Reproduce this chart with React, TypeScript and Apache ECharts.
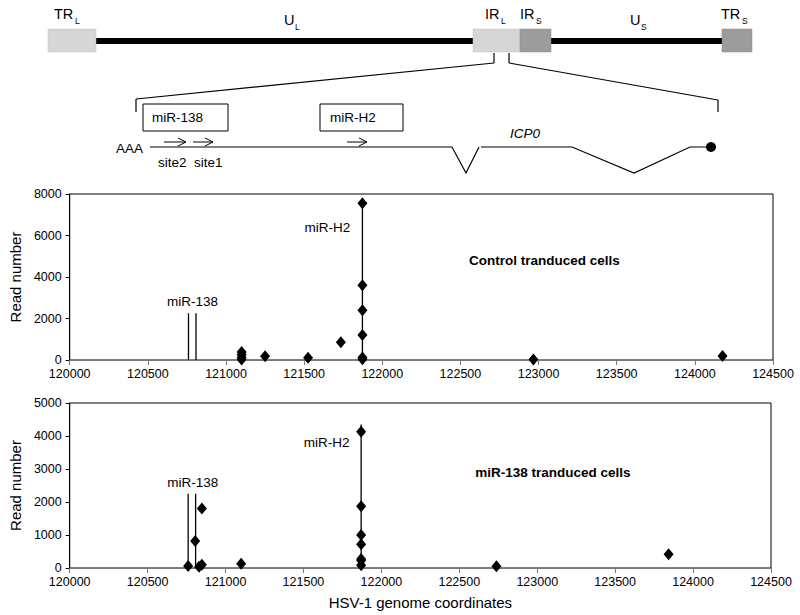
import React, { useEffect, useRef } from "react";
import * as echarts from "echarts";

const FONT = "'Liberation Sans', Arial, sans-serif";

// x axis ticks (shared)
const xMin = 120000;
const xMax = 124500;
const xStep = 500;

// Control transduced cells: read positions and counts
const controlX = [121100, 121100, 121100, 121100, 121250, 121525, 121735, 121873, 121873, 121873, 121873, 121873, 121873, 122967, 124177];
const controlY = [380, 250, 120, 30, 180, 110, 850, 7550, 3600, 2400, 1200, 120, 40, 30, 190];

// miR-138 transduced cells
const mirX = [120760, 120805, 120830, 120848, 120848, 121100, 121870, 121870, 121870, 121870, 121870, 121870, 121870, 122738, 123843];
const mirY = [60, 820, 40, 1800, 100, 130, 4130, 1870, 1000, 720, 270, 230, 80, 50, 420];

// miR-138 target sites and miR-H2 marker lines
const siteX = [120760, 120808];
const siteTop = [2250, 2250];
const h2X = [121873, 121870];
const h2Top = [7600, 4350];

// y ranges
const yMaxes = [8000, 5000];
const ySteps = [2000, 1000];

// annotations [x, y]
const mir138Label = [[120785, 2800], [120790, 2600]];
const h2Label = [[121795, 6400], [121795, 3800]];
const panelTitle = ["Control tranduced cells", "miR-138 tranduced cells"];
const panelTitlePos = [[123037, 4800], [123100, 2900]];

export default function App() {
  const ref = useRef<HTMLDivElement>(null);
  useEffect(() => {
    const chart = echarts.init(ref.current!, null, { renderer: "svg" });

    const grids = [
      { left: 60, top: 194, width: 713, height: 166 },
      { left: 61, top: 403, width: 710, height: 165 },
    ];

    const xAxes = grids.map((_, i) => ({
      type: "value",
      gridIndex: i,
      min: xMin,
      max: xMax,
      interval: xStep,
      axisLine: { show: true, lineStyle: { color: "#7a7a7a", width: 1 } },
      axisTick: { show: true, inside: false, length: 5, lineStyle: { color: "#7a7a7a" } },
      axisLabel: { color: "#000", fontSize: 12.5, fontFamily: FONT, margin: 7, formatter: (v: number) => String(v) },
      splitLine: { show: false },
      name: i === 1 ? "HSV-1 genome coordinates" : "",
      nameLocation: "middle",
      nameGap: 27,
      nameTextStyle: { color: "#000", fontSize: 15, fontFamily: FONT },
    }));

    const yAxes = grids.map((_, i) => ({
      type: "value",
      gridIndex: i,
      min: 0,
      max: yMaxes[i],
      interval: ySteps[i],
      axisLine: { show: true, lineStyle: { color: "#000", width: 1 } },
      axisTick: { show: true, inside: false, length: 4, lineStyle: { color: "#000" } },
      axisLabel: { color: "#000", fontSize: 12.5, fontFamily: FONT, margin: 8, formatter: (v: number) => String(v) },
      splitLine: { show: false },
      name: "Read number",
      nameLocation: "middle",
      nameGap: 46,
      nameTextStyle: { color: "#000", fontSize: 15, fontFamily: FONT },
    }));

    const series: any[] = [];
    const pointSets = [
      controlX.map((x, k) => [x, controlY[k]]),
      mirX.map((x, k) => [x, mirY[k]]),
    ];
    [0, 1].forEach((i) => {
      siteX.forEach((sx) => {
        series.push({
          type: "line",
          xAxisIndex: i,
          yAxisIndex: i,
          data: [[sx, 0], [sx, siteTop[i]]],
          symbol: "none",
          lineStyle: { color: "#000", width: 1.3 },
          silent: true,
        });
      });
      series.push({
        type: "line",
        xAxisIndex: i,
        yAxisIndex: i,
        data: [[h2X[i], 0], [h2X[i], h2Top[i]]],
        symbol: "none",
        lineStyle: { color: "#000", width: 1.3 },
        silent: true,
      });
      series.push({
        type: "scatter",
        xAxisIndex: i,
        yAxisIndex: i,
        data: pointSets[i],
        symbol: "diamond",
        symbolSize: [10, 12],
        itemStyle: { color: "#000", opacity: 1 },
      });
      const labelStyle = { color: "#000", fontSize: 13.5, fontFamily: FONT, opacity: 1 };
      series.push({
        type: "scatter",
        xAxisIndex: i,
        yAxisIndex: i,
        symbolSize: 0,
        silent: true,
        itemStyle: { opacity: 1, color: "#000" },
        data: [
          { value: mir138Label[i], label: { show: true, position: "inside", formatter: "miR-138", ...labelStyle } },
          { value: h2Label[i], label: { show: true, position: "left", distance: 0, formatter: "miR-H2", ...labelStyle } },
          { value: panelTitlePos[i], label: { show: true, position: "inside", formatter: panelTitle[i], ...labelStyle, fontWeight: "bold" } },
        ],
      });
    });

    const T = (text: string, x: number, y: number, size: number, extra: any = {}) => ({
      type: "text",
      x,
      y,
      style: { text, fontSize: size, fontFamily: FONT, fill: "#000", textVerticalAlign: "middle", ...extra },
    });
    const line = (x1: number, y1: number, x2: number, y2: number, w = 1.2) => ({
      type: "line",
      shape: { x1, y1, x2, y2 },
      style: { stroke: "#000", lineWidth: w },
    });
    const light = "#d6d6d6";
    const dark = "#9c9c9c";

    const graphic: any[] = [
      // genome backbone
      { type: "rect", shape: { x: 96, y: 38, width: 377, height: 6 }, style: { fill: "#000" } },
      { type: "rect", shape: { x: 551, y: 38, width: 171, height: 6 }, style: { fill: "#000" } },
      { type: "rect", shape: { x: 48, y: 29, width: 48, height: 23 }, style: { fill: light, stroke: "#c4c4c4", lineWidth: 0.5 } },
      { type: "rect", shape: { x: 473, y: 29, width: 47, height: 23 }, style: { fill: light, stroke: "#c4c4c4", lineWidth: 0.5 } },
      { type: "rect", shape: { x: 520, y: 29, width: 31, height: 23 }, style: { fill: dark, stroke: "#8a8a8a", lineWidth: 0.5 } },
      { type: "rect", shape: { x: 722, y: 29, width: 30, height: 23 }, style: { fill: dark, stroke: "#8a8a8a", lineWidth: 0.5 } },
      // region labels
      T("TR", 54, 14, 14.5), T("L", 75, 21, 8.5),
      T("U", 284, 20, 14.5), T("L", 295, 27, 8.5),
      T("IR", 485, 14, 14.5), T("L", 501, 21, 8.5),
      T("IR", 520, 14, 14.5), T("S", 536, 21, 8.5),
      T("U", 630, 20, 14.5), T("S", 641, 27, 8.5),
      T("TR", 721, 14, 14.5), T("S", 742, 21, 8.5),
      // zoom-in lines
      line(494, 53, 494, 63), line(494, 63, 136, 99), line(136, 99, 136, 112),
      line(509, 53, 509, 63), line(509, 63, 718, 100), line(718, 100, 718, 112),
      // miRNA boxes
      { type: "rect", shape: { x: 143, y: 104, width: 85, height: 27 }, style: { fill: "#fff", stroke: "#000", lineWidth: 1 } },
      T("miR-138", 152, 117.5, 13.5),
      { type: "rect", shape: { x: 320, y: 104, width: 83, height: 27 }, style: { fill: "#fff", stroke: "#000", lineWidth: 1 } },
      T("miR-H2", 330, 117.5, 13.5),
      // arrows
      line(164, 142, 186, 142, 1), { type: "polyline", shape: { points: [[178, 138], [186, 142], [178, 146]] }, style: { stroke: "#000", lineWidth: 1, fill: null } },
      line(193, 142, 213, 142, 1), { type: "polyline", shape: { points: [[205, 138], [213, 142], [205, 146]] }, style: { stroke: "#000", lineWidth: 1, fill: null } },
      line(347, 142, 367, 142, 1), { type: "polyline", shape: { points: [[359, 138], [367, 142], [359, 146]] }, style: { stroke: "#000", lineWidth: 1, fill: null } },
      // transcript
      {
        type: "polyline",
        shape: { points: [[150, 147], [452, 147], [466, 173], [479, 147]] },
        style: { stroke: "#000", lineWidth: 1.2, fill: null },
      },
      {
        type: "polyline",
        shape: { points: [[481, 147], [572, 147], [634, 173], [690, 147], [711, 147]] },
        style: { stroke: "#000", lineWidth: 1.2, fill: null },
      },
      { type: "circle", shape: { cx: 711, cy: 147, r: 5 }, style: { fill: "#000" } },
      T("AAA", 116, 148, 13.5),
      T("site2", 158, 162, 13.5),
      T("site1", 194, 162, 13.5),
      T("ICP0", 510, 133, 13.5, { fontStyle: "italic" }),
    ];

    chart.setOption({
      animation: false,
      backgroundColor: "#fff",
      grid: grids.map((g) => ({ ...g, show: true, borderColor: "#000", borderWidth: 1, backgroundColor: "transparent" })),
      xAxis: xAxes,
      yAxis: yAxes,
      series,
      graphic,
    });
    return () => chart.dispose();
  }, []);
  return <div ref={ref} style={{ position: "absolute", left: 0, top: 0, width: 800, height: 615 }} />;
}
